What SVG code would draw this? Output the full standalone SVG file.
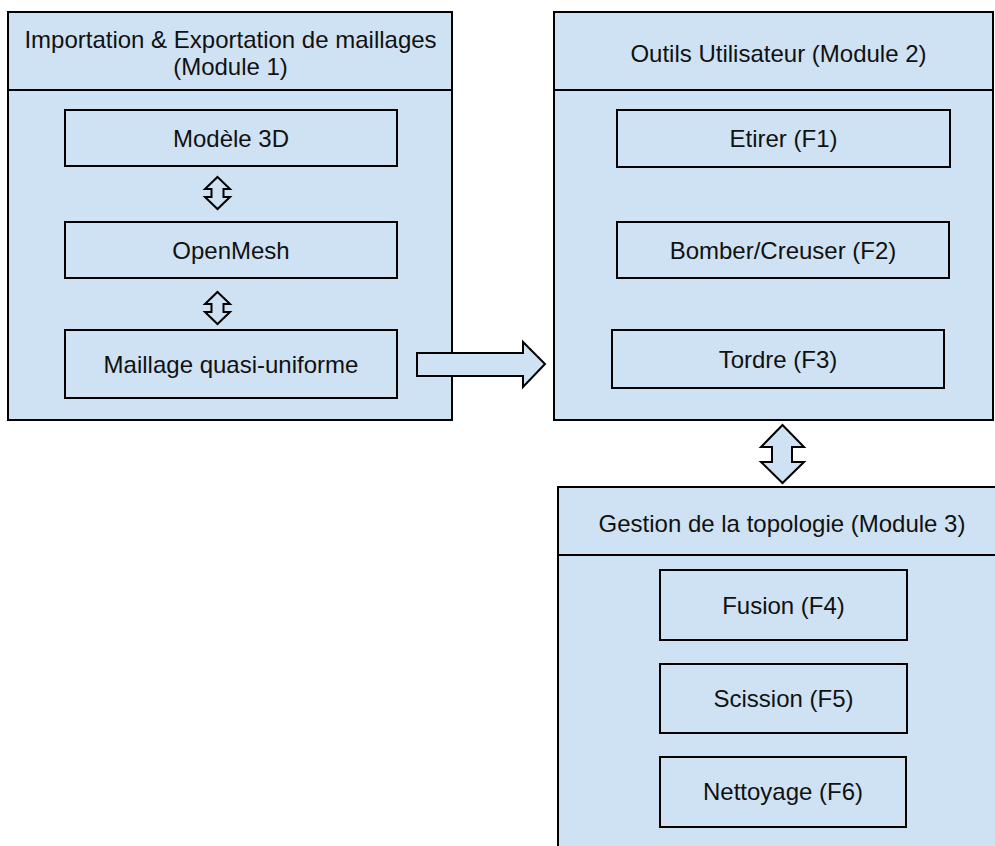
<svg xmlns="http://www.w3.org/2000/svg" width="995" height="846" viewBox="0 0 995 846">
  <style>
    .panel { fill: #cfe2f3; stroke: #000; stroke-width: 2; }
    .box { fill: #cfe2f3; stroke: #000; stroke-width: 2; }
    .rule { stroke: #000; stroke-width: 2; }
    .arrow { fill: #cfe2f3; stroke: #000; stroke-width: 2; stroke-linejoin: miter; }
    text { font-family: "Liberation Sans", Arial, sans-serif; font-size: 24px; fill: #111; text-anchor: middle; }
  </style>

  <rect width="995" height="846" fill="#fff"/>

  <!-- Module 1 -->
  <g id="module1">
    <rect class="panel" x="8" y="12" width="444" height="408"/>
    <line class="rule" x1="8" y1="90" x2="452" y2="90"/>
    <text x="230.5" y="48">Importation &amp; Exportation de maillages</text>
    <text x="230.5" y="75">(Module 1)</text>
  </g>
  <g id="modele3d">
    <rect class="box" x="65" y="110" width="332" height="56"/>
    <text x="231" y="147">Modèle 3D</text>
  </g>
  <g id="openmesh">
    <rect class="box" x="65" y="222" width="332" height="56"/>
    <text x="231" y="259">OpenMesh</text>
  </g>
  <g id="maillage">
    <rect class="box" x="65" y="330" width="332" height="68"/>
    <text x="231" y="373">Maillage quasi-uniforme</text>
  </g>

  <!-- Module 2 -->
  <g id="module2">
    <rect class="panel" x="554" y="12" width="439" height="408"/>
    <line class="rule" x1="554" y1="90" x2="993" y2="90"/>
    <text x="778.5" y="62">Outils Utilisateur (Module 2)</text>
  </g>
  <g id="etirer">
    <rect class="box" x="617" y="110" width="333" height="57"/>
    <text x="783.5" y="147">Etirer (F1)</text>
  </g>
  <g id="bomber">
    <rect class="box" x="617" y="222" width="332" height="56"/>
    <text x="783" y="259">Bomber/Creuser (F2)</text>
  </g>
  <g id="tordre">
    <rect class="box" x="612" y="330" width="332" height="58"/>
    <text x="778" y="368">Tordre (F3)</text>
  </g>

  <!-- Module 3 -->
  <g id="module3">
    <rect class="panel" x="558" y="487" width="440" height="400"/>
    <line class="rule" x1="558" y1="555" x2="998" y2="555"/>
    <text x="782" y="532">Gestion de la topologie (Module 3)</text>
  </g>
  <g id="fusion">
    <rect class="box" x="660" y="570" width="247" height="70"/>
    <text x="783.5" y="614">Fusion (F4)</text>
  </g>
  <g id="scission">
    <rect class="box" x="660" y="664" width="247" height="69"/>
    <text x="783.5" y="707">Scission (F5)</text>
  </g>
  <g id="nettoyage">
    <rect class="box" x="660" y="757" width="246" height="70"/>
    <text x="783" y="800">Nettoyage (F6)</text>
  </g>

  <!-- Connectors -->
  <g id="connectors">
    <polygon class="arrow" points="217.5,177 230,189 223.5,189 223.5,197 230,197 217.5,209 205,197 211.5,197 211.5,189 205,189"/>
    <polygon class="arrow" points="217.5,292 230,304 223.5,304 223.5,312 230,312 217.5,324 205,312 211.5,312 211.5,304 205,304"/>
    <polygon class="arrow" points="417,353 523,353 523,342 545,364 523,387 523,376 417,376"/>
    <polygon class="arrow" points="782.5,425 804,447 792,447 792,462 804,462 782.5,483 761,462 772,462 772,447 761,447"/>
  </g>
</svg>
